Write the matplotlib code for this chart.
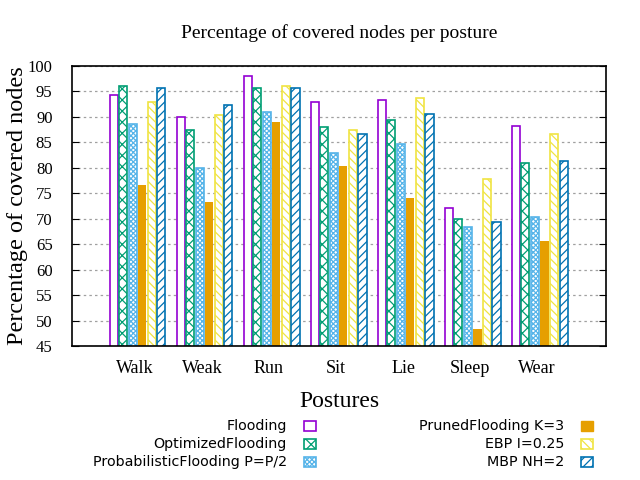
import numpy as np
import matplotlib
matplotlib.use('Agg')
import matplotlib.pyplot as plt
from matplotlib.patches import Rectangle

postures = ['Walk', 'Weak', 'Run', 'Sit', 'Lie', 'Sleep', 'Wear']

flooding = [94.3, 90.0, 98.0, 92.9, 93.3, 72.2, 88.3]
optimized = [96.0, 87.4, 95.6, 88.0, 89.3, 69.9, 80.9]
probabilistic = [88.7, 79.9, 90.9, 82.9, 84.6, 68.3, 70.3]
pruned = [76.7, 73.3, 89.0, 80.4, 74.1, 48.3, 65.6]
ebp = [93.0, 90.4, 96.0, 87.4, 93.7, 77.9, 86.6]
mbp = [95.6, 92.3, 95.6, 86.6, 90.5, 69.3, 81.3]

series_names = ['Flooding', 'OptimizedFlooding', 'ProbabilisticFlooding P=P/2',
                'PrunedFlooding K=3', 'EBP I=0.25', 'MBP NH=2']
series = [flooding, optimized, probabilistic, pruned, ebp, mbp]
colors = ['#9400D3', '#009E73', '#56B4E9', '#E69F00', '#F0E442', '#0072B2']
hatches = ['', 'xxx', 'xxxxxxx', '', '\\\\\\\\', '////']
filled = [False, False, False, True, False, False]

plt.rcParams['hatch.linewidth'] = 0.9
serif = ['Liberation Serif', 'DejaVu Serif']

fig = plt.figure(figsize=(6.4, 4.8), dpi=100)
ax = fig.add_axes([0.1125, 0.279, 0.8345, 0.5835])

x = np.arange(len(postures))
step = 0.142
width = 0.12
for i, vals in enumerate(series):
    off = (i - 2.5) * step + 0.04
    if filled[i]:
        ax.bar(x + off, vals, width, color=colors[i], edgecolor=colors[i], linewidth=0)
    else:
        ax.bar(x + off, vals, width, facecolor='white', edgecolor=colors[i],
               hatch=hatches[i], linewidth=1.2)

ax.set_xlim(-0.94, 7.03)
ax.set_ylim(45, 100)
ax.set_yticks(np.arange(45, 101, 5))
ax.set_xticks(x)
ax.set_xticklabels(postures, fontsize=13, family=serif)
for lab in ax.get_yticklabels():
    lab.set_family(serif)
    lab.set_fontsize(12)
ax.tick_params(axis='x', length=0, pad=10)
ax.tick_params(axis='y', direction='in', right=True, length=5, pad=14)
ax.yaxis.grid(True, color='#a0a0a0', linestyle=(0, (2, 2.5)), linewidth=0.9)
ax.set_axisbelow(True)
for s in ax.spines.values():
    s.set_linewidth(1.2)

ax.set_title('Percentage of covered nodes per posture', family=serif, fontsize=14, pad=20)
ax.set_xlabel('Postures', family=serif, fontsize=17, labelpad=10)
ax.set_ylabel('Percentage of covered nodes', family=serif, fontsize=17.5, labelpad=0)

# gnuplot-style key, text right-aligned left of the sample box
rows_y = [426, 444, 462]
col_text_x = [287, 564]
col_box_x = [304, 581]
for i, name in enumerate(series_names):
    col, row = divmod(i, 3)
    yy = 1 - rows_y[row] / 480
    fig.text(col_text_x[col] / 640, yy, name, ha='right', va='center', fontsize=10.3,
             family='DejaVu Sans')
    if filled[i]:
        r = Rectangle((col_box_x[col] / 640, yy - 5 / 480), 12 / 640, 10 / 480,
                      transform=fig.transFigure, facecolor=colors[i], edgecolor=colors[i])
    else:
        r = Rectangle((col_box_x[col] / 640, yy - 5 / 480), 12 / 640, 10 / 480,
                      transform=fig.transFigure, facecolor='white', edgecolor=colors[i],
                      hatch=hatches[i], linewidth=1.2)
    fig.patches.append(r)

fig.savefig('out.png', dpi=100)
